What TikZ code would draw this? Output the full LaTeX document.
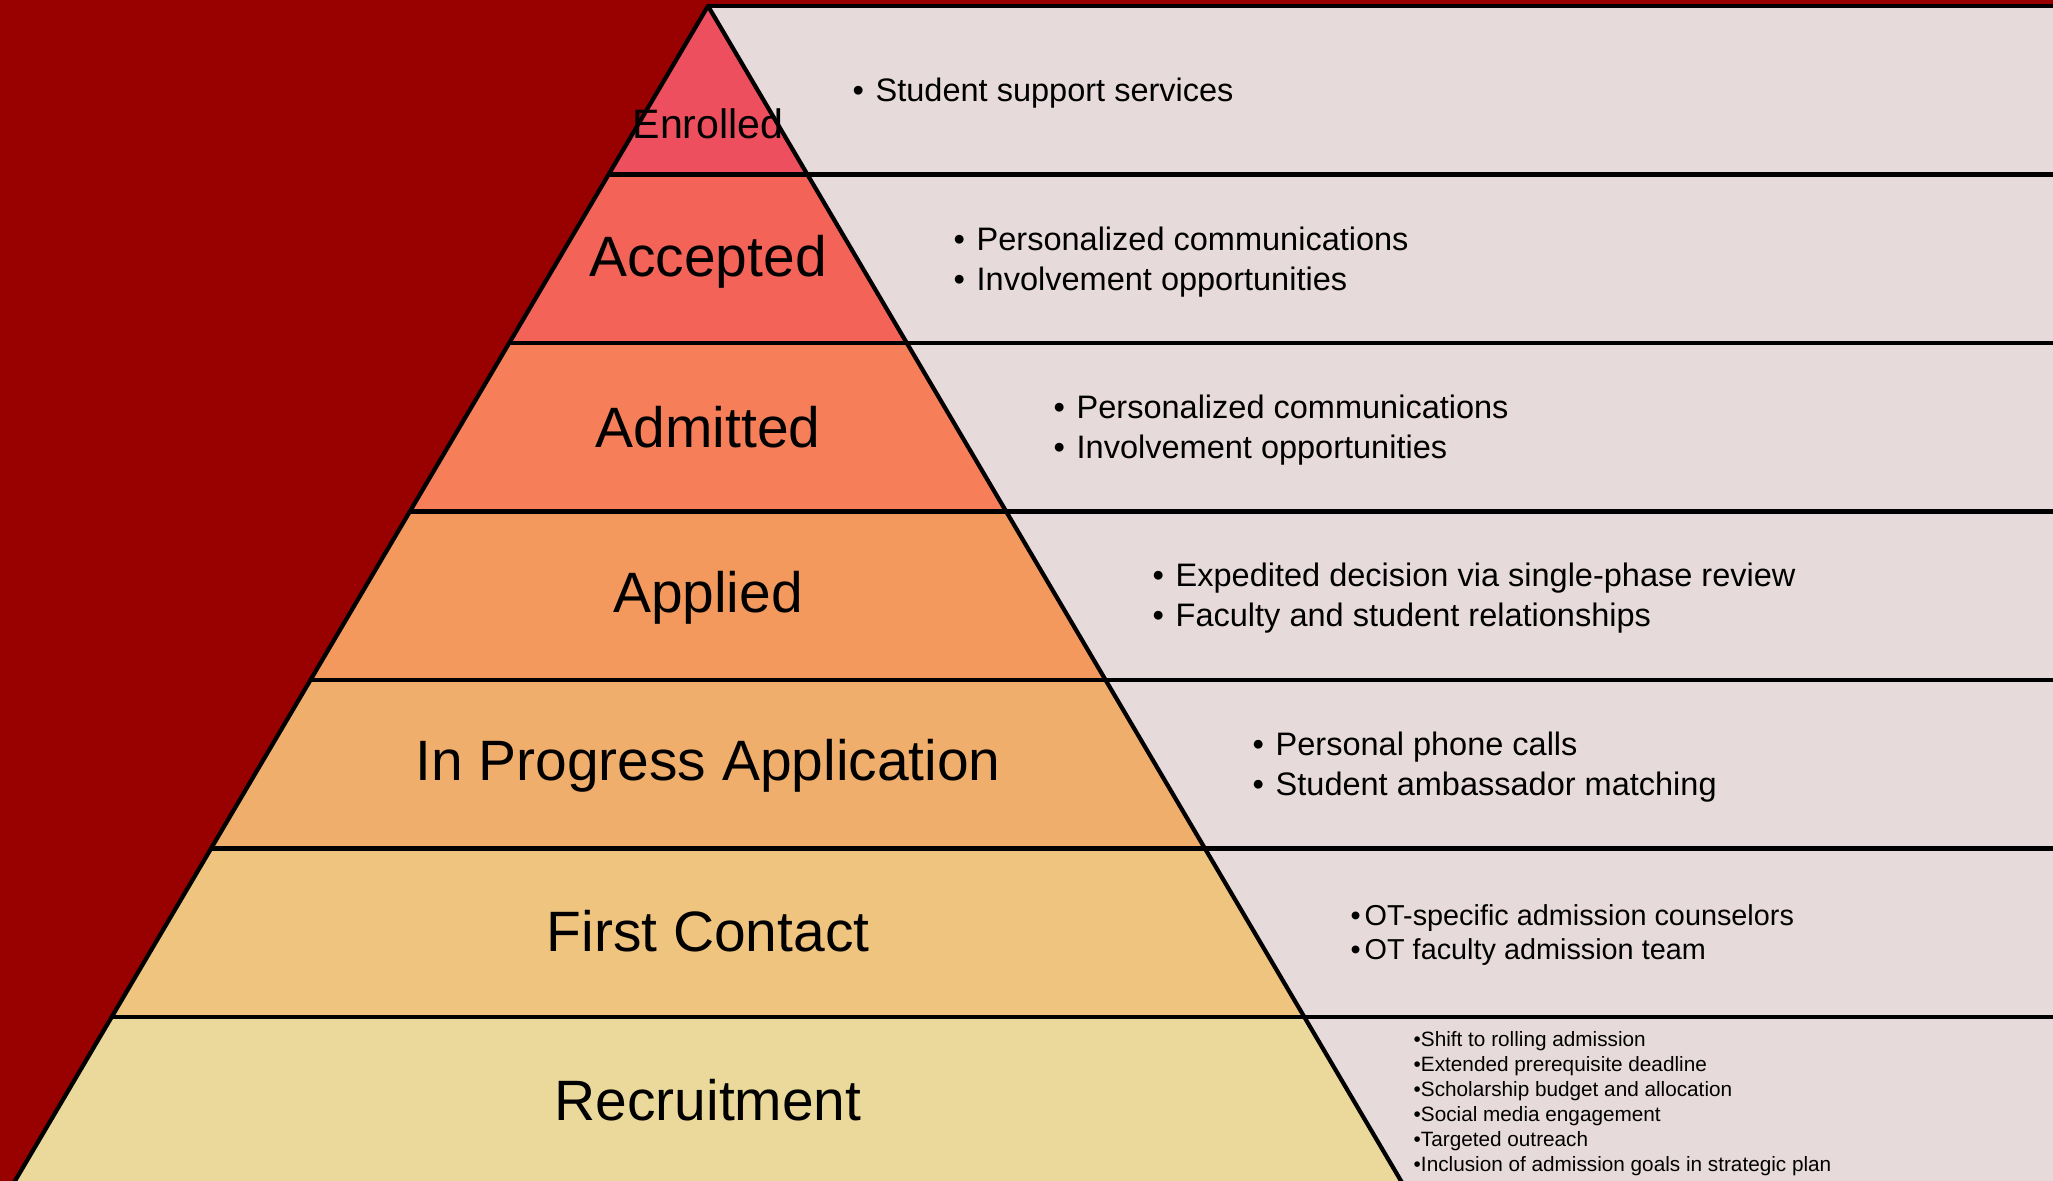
\documentclass[tikz,border=0pt]{standalone}
\usepackage{fontspec}
\setmainfont{Liberation Sans}
\usetikzlibrary{calc}

\definecolor{bgred}{HTML}{990000}
\definecolor{panel}{HTML}{E7DADA}
\definecolor{fillenrolled}{HTML}{ED4F5E}
\definecolor{fillaccepted}{HTML}{F36358}
\definecolor{filladmitted}{HTML}{F67F5A}
\definecolor{fillapplied}{HTML}{F4995E}
\definecolor{fillprogress}{HTML}{F0AE6C}
\definecolor{fillcontact}{HTML}{EEC47F}
\definecolor{fillrecruit}{HTML}{EAD99A}

\newcommand{\itm}[2][0.23cm]{\makebox[#1][l]{\textbullet}#2}

\begin{document}
\begin{tikzpicture}[
    edge/.style={line width=1.2pt, line join=round},
    stage/.style={inner sep=0pt, font=\fontsize{16.2}{19}\selectfont},
    notes/.style={anchor=west, align=left, inner sep=0pt, font=\fontsize{9.25}{11.55}\selectfont}
]
\useasboundingbox (0,0) rectangle (20.53,11.81);

% Background and side panel
\fill[bgred] (0,0) rectangle (20.53,11.81);
\fill[panel] (7.08,0) rectangle (20.53,11.75);

% Pyramid corners (base sits just below the page)
\coordinate (apex) at (7.08,11.75);
\coordinate (baseL) at (0.123,-0.045);
\coordinate (baseR) at (14.037,-0.045);
\coordinate (edgeR) at (20.53,0);

% Bands, bottom to top
\foreach \c [count=\i from 0] in {fillrecruit,fillcontact,fillprogress,fillapplied,filladmitted,fillaccepted,fillenrolled} {
  \pgfmathsetmacro{\j}{\i+1}
  \fill[\c] ($(baseL)!\i/7!(apex)$) -- ($(baseR)!\i/7!(apex)$)
    -- ($(baseR)!\j/7!(apex)$) -- ($(baseL)!\j/7!(apex)$) -- cycle;
}

% Band borders run out to the right edge
\foreach \i in {1,...,6}
  \draw[edge] ($(baseL)!\i/7!(apex)$) coordinate (p) -- (p -| edgeR);
\draw[edge] (apex) -- (apex -| edgeR);
\draw[edge] (baseL) -- (apex) -- (baseR);

% Stage labels
\node[stage, font=\fontsize{11.7}{14}\selectfont] (enrolled) at (7.08,10.57) {Enrolled};
\node[stage] (accepted) at (7.08,9.19) {Accepted};
\node[stage] (admitted) at (7.08,7.54) {Admitted};
\node[stage] (applied) at (7.08,5.83) {Applied};
\node[stage] (progress) at (7.08,4.15) {In Progress Application};
\node[stage] (contact) at (7.08,2.50) {First Contact};
\node[stage] (recruit) at (7.08,0.81) {Recruitment};

% Strategies for each stage
\node[notes] (enrolled notes) at (8.52,10.88) {\itm{Student support services}};
\node[notes] (accepted notes) at (9.53,9.19) {\itm{Personalized communications}\\ \itm{Involvement opportunities}};
\node[notes] (admitted notes) at (10.53,7.51) {\itm{Personalized communications}\\ \itm{Involvement opportunities}};
\node[notes] (applied notes) at (11.52,5.83) {\itm{Expedited decision via single-phase review}\\ \itm{Faculty and student relationships}};
\node[notes] (progress notes) at (12.52,4.14) {\itm{Personal phone calls}\\ \itm{Student ambassador matching}};
\node[notes, font=\fontsize{8.2}{9.9}\selectfont] (contact notes) at (13.50,2.46)
  {\itm[0.14cm]{OT-specific admission counselors}\\ \itm[0.14cm]{OT faculty admission team}};
\node[notes, font=\fontsize{5.9}{7.1}\selectfont] (recruit notes) at (14.13,0.77)
  {\textbullet Shift to rolling admission\\
   \textbullet Extended prerequisite deadline\\
   \textbullet Scholarship budget and allocation\\
   \textbullet Social media engagement\\
   \textbullet Targeted outreach\\
   \textbullet Inclusion of admission goals in strategic plan};

\end{tikzpicture}
\end{document}
